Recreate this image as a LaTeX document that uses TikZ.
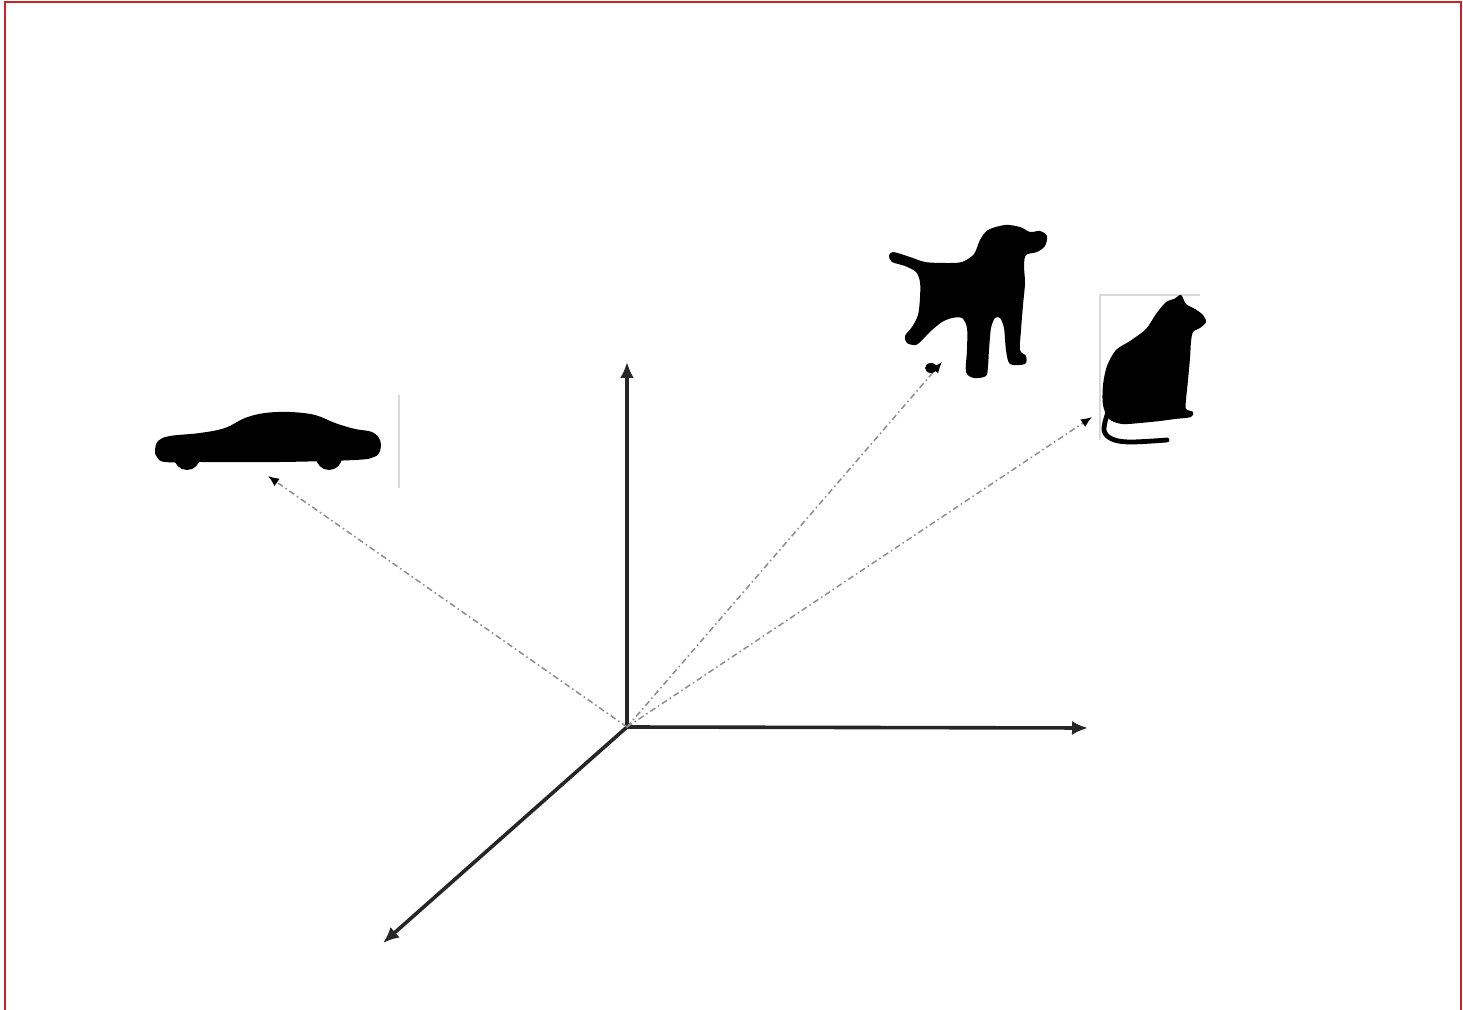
\documentclass[tikz,border=0pt]{standalone}
\usetikzlibrary{arrows.meta}
\definecolor{frame}{RGB}{204,34,34}
\tikzset{
  axis/.style={line width=1.8pt, draw=black!85, -{Latex[length=8pt,width=7pt]}},
  vec/.style={line width=0.75pt, draw=black!45, dash pattern=on 3pt off 1.6pt on 0.8pt off 1.6pt, -{Latex[length=5.5pt,width=4.5pt,black]}},
  faint/.style={draw=black!15, line width=0.6pt}
}
\begin{document}
\begin{tikzpicture}[x=0.5pt,y=-0.5pt]
\useasboundingbox (0,0) rectangle (1463,1010);
% frame
\draw[frame, line width=1.3pt] (5,1010) -- (5,2) -- (1461,2) -- (1461,1010);
% coordinates
\coordinate (O) at (627,727);
\coordinate (Y) at (627,362);
\coordinate (X) at (1088,728);
\coordinate (Z) at (383,943);
\coordinate (car) at (268,476);
\coordinate (dog) at (942,362);
\coordinate (cat) at (1092,417);
% axes
\draw[axis] (O) -- (Y);
\draw[axis] (O) -- (X);
\draw[axis] (O) -- (Z);
% vectors
\draw[vec] (O) -- (car);
\draw[vec] (O) -- (dog);
\draw[vec] (O) -- (cat);
% car
\draw[faint] (399,395) -- (399,488);
\fill[black] plot[smooth cycle, tension=0.6] coordinates {
 (155,451) (158,441) (170,436) (200,433) (225,428) (245,418) (265,413) (290,412)
 (315,415) (335,423) (355,429) (372,432) (380,440) (380,451) (374,457) (355,460)
 (280,462) (200,462) (165,462) (157,457)};
\fill[black] (187,457) circle[radius=13];
\fill[black] (329,457) circle[radius=13];
% dog
\fill[black] plot[smooth cycle, tension=0.5] coordinates {
 (889,256) (893,252) (910,257) (925,262) (945,263) (962,262) (974,254) (980,240)
 (988,230) (1005,225) (1020,227) (1030,232) (1040,231) (1047,236) (1045,246)
 (1037,252) (1026,255) (1024,266) (1025,283) (1023,305) (1021,330) (1020,350)
 (1026,356) (1025,364) (1010,364) (1006,350) (1004,328) (1000,318) (995,318)
 (991,328) (989,350) (988,366) (986,376) (974,378) (966,372) (967,350) (967,328)
 (962,318) (952,318) (942,322) (932,330) (923,339) (916,345) (907,343) (905,336)
 (912,327) (918,315) (920,298) (920,282) (916,272) (905,266) (892,262)};
\fill[black] (931,368) ellipse[x radius=6, y radius=5];
% cat
\draw[faint] (1100,440) -- (1100,295) -- (1200,295);
\fill[black] plot[smooth cycle, tension=0.5] coordinates {
 (1181,295) (1186,304) (1195,309) (1203,315) (1206,322) (1200,328) (1193,332)
 (1191,342) (1190,358) (1188,380) (1186,400) (1186,409) (1193,412) (1191,417)
 (1175,419) (1160,421) (1140,423) (1122,424) (1109,419) (1103,405) (1103,385)
 (1107,366) (1116,350) (1130,341) (1146,329) (1156,314) (1166,302) (1174,299)};
\draw[black, line width=2.4pt, line cap=round] plot[smooth, tension=0.6] coordinates {
 (1108,412) (1104,430) (1112,439) (1130,442) (1167,440)};
\end{tikzpicture}
\end{document}
